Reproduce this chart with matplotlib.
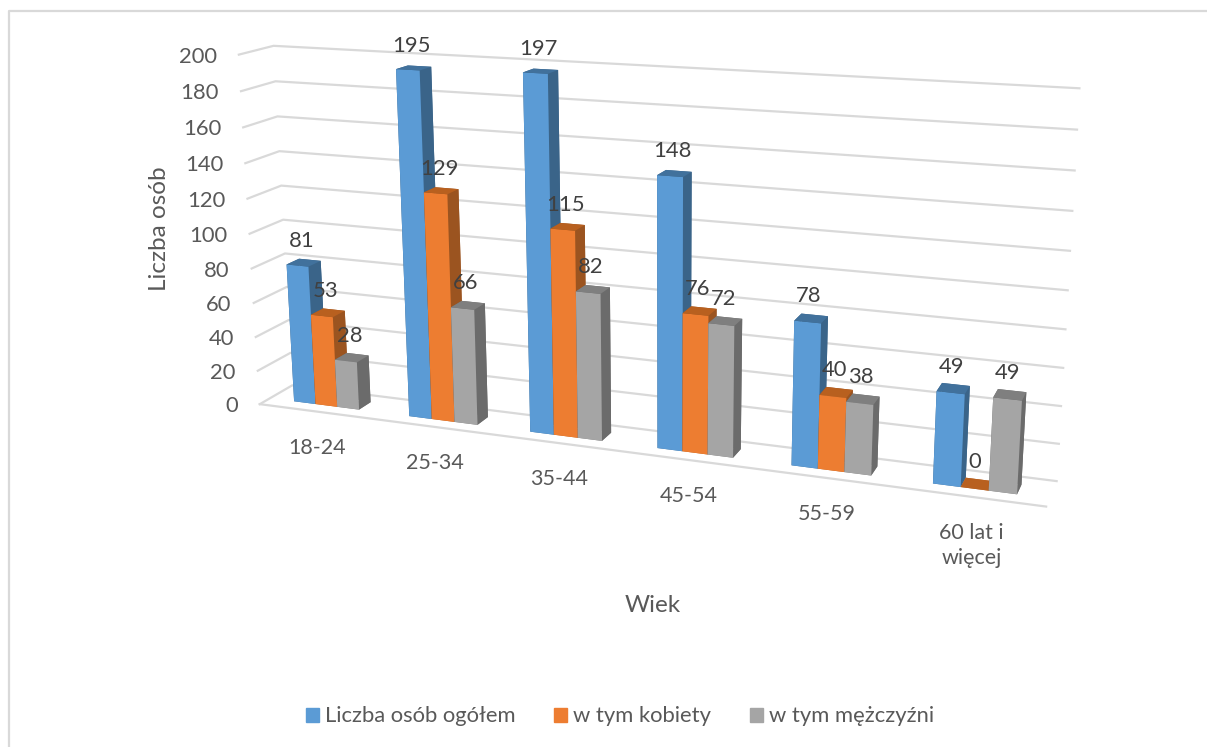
import matplotlib
matplotlib.use("Agg")
from matplotlib import pyplot as plt
from matplotlib.lines import Line2D
from matplotlib.patches import Patch
from mpl_toolkits.mplot3d import proj3d

categories = ["18-24", "25-34", "35-44", "45-54", "55-59", "60 lat i\nwięcej"]
ogolem = [81, 195, 197, 148, 78, 49]
kobiety = [53, 129, 115, 76, 40, 0]
mezczyzni = [28, 66, 82, 72, 38, 49]
series_names = ["Liczba osób ogółem", "w tym kobiety", "w tym mężczyźni"]
z_ticks = [0, 20, 40, 60, 80, 100, 120, 140, 160, 180, 200]

# front, top, side
blue = ("#5b9bd5", "#41719c", "#3a6489")
orange = ("#ed7d31", "#b8601f", "#9b5420")
gray = ("#a5a5a5", "#7f7f7f", "#6b6b6b")
grid_color = "#d9d9d9"
text_color = "#595959"
label_color = "#404040"

plt.rcParams["font.family"] = ["Lato", "DejaVu Sans"]

fig = plt.figure(figsize=(12.07, 7.47), dpi=100)
# camera and rectangle fitted on the wall corners of the picture
ax = fig.add_axes([0.1403, 0.0307, 0.7483, 1.2091], projection="3d", computed_zorder=False)
ax.set_xlim(0, 6)
ax.set_ylim(0, 1)
ax.set_zlim(0, 200)
ax.view_init(elev=14.7928, azim=-69.2502, roll=0.2818)
ax.set_proj_type("persp", focal_length=0.3752)
ax.set_box_aspect((1, 0.0802, 0.4522))
ax.set_axis_off()
ax.patch.set_visible(False)
M = ax.get_proj()


def label3d(x, y, z, s, dx, dy, **kw):
    # text stays 2D, pinned to a projected 3D point with a pixel offset
    px, py, _ = proj3d.proj_transform(x, y, z, M)
    return ax.annotate(s, (px, py), xytext=(dx, dy), textcoords="offset pixels",
                       annotation_clip=False, zorder=60, **kw)


# walls and floor
for z in z_ticks:
    ax.plot([0, 0, 6], [0, 1, 1], [z, z, z], color=grid_color, lw=1.6, clip_on=False, zorder=1)
    label3d(0, 0, z, str(z), -22, -2, ha="right", va="center", fontsize=15.8, color=text_color)
ax.plot([0, 6], [0, 0], [0, 0], color=grid_color, lw=1.6, clip_on=False, zorder=1)

bar_w = 0.19
y0 = 0.31
depth = 0.38
order = 2
for i, cat in enumerate(categories):
    for j, (vals, cols) in enumerate(zip([ogolem, kobiety, mezczyzni], [blue, orange, gray])):
        x = i + 0.5 + (j - 1.5) * bar_w
        front, top, side = cols
        # bottom, top, front, back, left, right
        faces = [top, top, front, side, side, side]
        bar = ax.bar3d(x, y0, 0, bar_w, depth, vals[i], color=faces, shade=False, zorder=order)
        bar.set_clip_on(False)
        order += 1
        label3d(x + bar_w / 2, 0.5, vals[i], str(vals[i]), -2, 22, ha="center", va="center",
                fontsize=15.8, color=label_color)
    label3d(i + 0.5, 0, 0, cat, 1, -26, ha="center", va="top", fontsize=15.5, color=text_color,
            linespacing=1.35)

fig.text(159 / 1207, 1 - 229 / 747, "Liczba osób", rotation=90, ha="center", va="center",
         fontsize=17.5, color=text_color)
fig.text(653 / 1207, 1 - 606 / 747, "Wiek", ha="center", va="center", fontsize=17.5, color=text_color)

handles = [Patch(color=blue[0], label=series_names[0]),
           Patch(color=orange[0], label=series_names[1]),
           Patch(color=gray[0], label=series_names[2])]
fig.legend(handles=handles, loc="center", bbox_to_anchor=(620 / 1207, 1 - 716.5 / 747), ncol=3,
           frameon=False, fontsize=15.8, labelcolor=text_color, handlelength=0.6, handleheight=0.62,
           handletextpad=0.28, columnspacing=1.75)

# chart frame, only left and top edges are in the crop
fig.add_artist(Line2D([9 / 1207, 9 / 1207, 1], [0, 1 - 11 / 747, 1 - 11 / 747], color=grid_color, lw=1.6))

fig.savefig("out.png", dpi=100)
